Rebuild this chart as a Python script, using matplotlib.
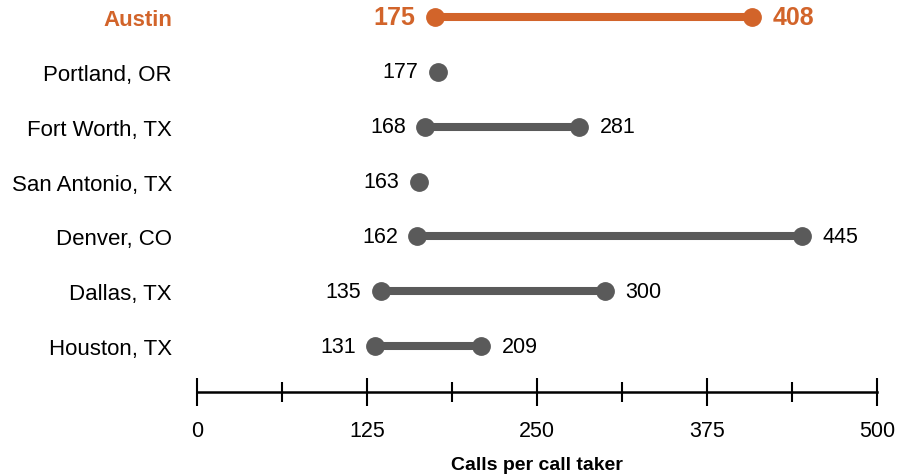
import numpy as np
import matplotlib.pyplot as plt

cities = ['Houston, TX', 'Dallas, TX', 'Denver, CO', 'San Antonio, TX',
          'Fort Worth, TX', 'Portland, OR', 'Austin']
low_vals = [131, 135, 162, 163, 168, 177, 175]
high_vals = [209, 300, 445, np.nan, 281, np.nan, 408]
highlight = 'Austin'

orange = '#D2642A'
grey = '#5A5A5A'

plt.rcParams['font.family'] = ['Liberation Sans', 'DejaVu Sans']

fig = plt.figure(figsize=(9.1, 4.77), dpi=100)
ax = fig.add_axes([0.2165, 0, 0.747, 1])

for i, (city, lo, hi) in enumerate(zip(cities, low_vals, high_vals)):
    c = orange if city == highlight else grey
    tc = orange if city == highlight else 'black'
    fs = 18 if city == highlight else 15.5
    fw = 'bold' if city == highlight else 'normal'
    if not np.isnan(hi):
        ax.plot([lo, hi], [i, i], color=c, lw=5.8, solid_capstyle='butt', zorder=2)
        ax.plot([lo, hi], [i, i], 'o', color=c, ms=12.5, zorder=3)
        ax.annotate(str(int(hi)), (hi, i), xytext=(15, 0), textcoords='offset points',
                    ha='left', va='center', fontsize=fs, color=tc, fontweight=fw)
    else:
        ax.plot([lo], [i], 'o', color=c, ms=12.5, zorder=3)
    ax.annotate(str(int(lo)), (lo, i), xytext=(-14, 0), textcoords='offset points',
                ha='right', va='center', fontsize=fs, color=tc, fontweight=fw)

ax.set_xlim(0, 500)
ax.set_ylim(-2.372, 6.332)

ax.set_yticks(range(len(cities)))
ax.set_yticklabels(cities, fontsize=16)
ax.tick_params(axis='y', length=0, pad=18)
for lab in ax.get_yticklabels():
    if lab.get_text() == highlight:
        lab.set_color(orange)
        lab.set_fontweight('bold')

for s in ['top', 'right', 'left']:
    ax.spines[s].set_visible(False)
ax.spines['bottom'].set_position(('data', -0.84))
ax.spines['bottom'].set_linewidth(1.8)
ax.set_xticks([0, 125, 250, 375, 500])
ax.set_xticks([62.5, 187.5, 312.5, 437.5], minor=True)
ax.tick_params(axis='x', which='major', direction='inout', length=20, width=1.5,
               labelsize=15.5, pad=10)
ax.tick_params(axis='x', which='minor', direction='inout', length=14, width=1.5)
ax.set_xlabel('Calls per call taker', fontsize=14, fontweight='bold', labelpad=11)
ax.patch.set_visible(False)

fig.savefig('out.png', dpi=100)
